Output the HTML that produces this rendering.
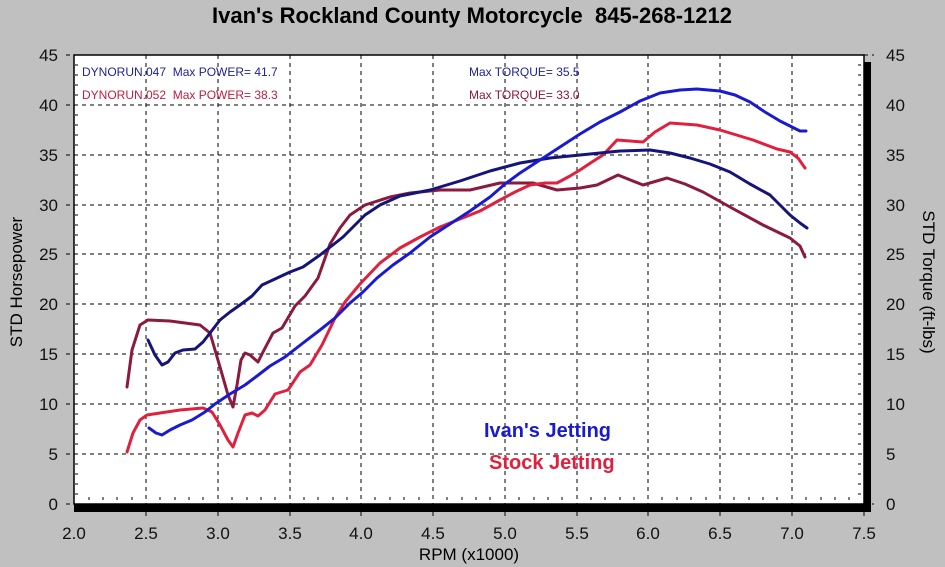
<!DOCTYPE html>
<html><head><style>body{margin:0;background:#c0c0c0}svg{display:block}text{white-space:pre}</style></head><body>
<svg width="945" height="567" xmlns="http://www.w3.org/2000/svg" font-family="Liberation Sans, Arial, sans-serif">
<rect width="945" height="567" fill="#c0c0c0"/>
<text x="472" y="23" text-anchor="middle" font-size="22" font-weight="bold">Ivan's Rockland County Motorcycle  845-268-1212</text>
<rect x="74" y="55" width="790" height="449" fill="#fff" stroke="#000" stroke-width="1.5"/>
<g stroke="#000" stroke-width="1" stroke-dasharray="4,4">
<line x1="146" y1="55" x2="146" y2="504"/><line x1="218" y1="55" x2="218" y2="504"/><line x1="290" y1="55" x2="290" y2="504"/><line x1="361" y1="55" x2="361" y2="504"/><line x1="433" y1="55" x2="433" y2="504"/><line x1="505" y1="55" x2="505" y2="504"/><line x1="577" y1="55" x2="577" y2="504"/><line x1="648" y1="55" x2="648" y2="504"/><line x1="720" y1="55" x2="720" y2="504"/><line x1="792" y1="55" x2="792" y2="504"/>
<line x1="66" y1="105" x2="874" y2="105"/><line x1="66" y1="155" x2="874" y2="155"/><line x1="66" y1="205" x2="874" y2="205"/><line x1="66" y1="254" x2="874" y2="254"/><line x1="66" y1="304" x2="874" y2="304"/><line x1="66" y1="354" x2="874" y2="354"/><line x1="66" y1="404" x2="874" y2="404"/><line x1="66" y1="454" x2="874" y2="454"/>
<line x1="66" y1="55" x2="74" y2="55"/><line x1="864" y1="55" x2="874" y2="55"/><line x1="66" y1="504" x2="74" y2="504"/><line x1="864" y1="504" x2="874" y2="504"/>
<line x1="146" y1="512" x2="146" y2="520"/><line x1="218" y1="512" x2="218" y2="520"/><line x1="290" y1="512" x2="290" y2="520"/><line x1="361" y1="512" x2="361" y2="520"/><line x1="433" y1="512" x2="433" y2="520"/><line x1="505" y1="512" x2="505" y2="520"/><line x1="577" y1="512" x2="577" y2="520"/><line x1="648" y1="512" x2="648" y2="520"/><line x1="720" y1="512" x2="720" y2="520"/><line x1="792" y1="512" x2="792" y2="520"/><line x1="864" y1="512" x2="864" y2="520"/>
</g>
<g stroke="#000" stroke-width="1" stroke-dasharray="3,3">
<path d="M75 65h5M75 75h5M75 85h5M75 95h5M75 115h5M75 125h5M75 135h5M75 145h5M75 165h5M75 175h5M75 185h5M75 195h5M75 215h5M75 225h5M75 235h5M75 245h5M75 264h5M75 274h5M75 284h5M75 294h5M75 314h5M75 324h5M75 334h5M75 344h5M75 364h5M75 374h5M75 384h5M75 394h5M75 414h5M75 424h5M75 434h5M75 444h5M75 464h5M75 474h5M75 484h5M75 494h5"/>
<path d="M858 65h5M858 75h5M858 85h5M858 95h5M858 115h5M858 125h5M858 135h5M858 145h5M858 165h5M858 175h5M858 185h5M858 195h5M858 215h5M858 225h5M858 235h5M858 245h5M858 264h5M858 274h5M858 284h5M858 294h5M858 314h5M858 324h5M858 334h5M858 344h5M858 364h5M858 374h5M858 384h5M858 394h5M858 414h5M858 424h5M858 434h5M858 444h5M858 464h5M858 474h5M858 484h5M858 494h5"/>
<path d="M89 497v6M103 497v6M117 497v6M132 497v6M160 497v6M175 497v6M189 497v6M203 497v6M232 497v6M247 497v6M261 497v6M275 497v6M304 497v6M318 497v6M333 497v6M347 497v6M375 497v6M390 497v6M404 497v6M419 497v6M447 497v6M462 497v6M476 497v6M490 497v6M519 497v6M534 497v6M548 497v6M562 497v6M591 497v6M605 497v6M620 497v6M634 497v6M662 497v6M677 497v6M691 497v6M706 497v6M734 497v6M749 497v6M763 497v6M777 497v6M806 497v6M821 497v6M835 497v6M849 497v6"/>
</g>
<rect x="864" y="62" width="7" height="450" fill="#000"/>
<rect x="74" y="504" width="797" height="8" fill="#000"/>
<g font-size="17" fill="#111" text-anchor="end">
<text x="58" y="61">45</text><text x="58" y="111">40</text><text x="58" y="161">35</text><text x="58" y="211">30</text><text x="58" y="260">25</text><text x="58" y="310">20</text><text x="58" y="360">15</text><text x="58" y="410">10</text><text x="58" y="460">5</text><text x="58" y="510">0</text>
</g>
<g font-size="17" fill="#111" text-anchor="start">
<text x="886" y="61">45</text><text x="886" y="111">40</text><text x="886" y="161">35</text><text x="886" y="211">30</text><text x="886" y="260">25</text><text x="886" y="310">20</text><text x="886" y="360">15</text><text x="886" y="410">10</text><text x="886" y="460">5</text><text x="886" y="510">0</text>
</g>
<g font-size="17" fill="#111" text-anchor="middle">
<text x="74" y="539">2.0</text><text x="146" y="539">2.5</text><text x="218" y="539">3.0</text><text x="290" y="539">3.5</text><text x="361" y="539">4.0</text><text x="433" y="539">4.5</text><text x="505" y="539">5.0</text><text x="577" y="539">5.5</text><text x="648" y="539">6.0</text><text x="720" y="539">6.5</text><text x="792" y="539">7.0</text><text x="864" y="539">7.5</text>
</g>
<text x="469" y="560" text-anchor="middle" font-size="17">RPM (x1000)</text>
<text transform="translate(22,282) rotate(-90)" text-anchor="middle" font-size="17">STD Horsepower</text>
<text transform="translate(923,282) rotate(90)" text-anchor="middle" font-size="17">STD Torque (ft-lbs)</text>
<g font-size="12">
<text x="82" y="76" fill="#22229a">DYNORUN.047  Max POWER= 41.7</text>
<text x="82" y="99" fill="#c0203c">DYNORUN.052  Max POWER= 38.3</text>
<text x="469" y="76" fill="#22229a">Max TORQUE= 35.5</text>
<text x="469" y="99" fill="#8b1a3c">Max TORQUE= 33.0</text>
</g>
<text x="484" y="437" font-size="20" font-weight="bold" fill="#1a1ad0">Ivan's Jetting</text>
<text x="489" y="469" font-size="20" font-weight="bold" fill="#e0203c">Stock Jetting</text>
<g fill="none" stroke-width="3" stroke-linejoin="round" stroke-linecap="round">
<polyline stroke="#8b1a3c" points="127,387 132,350 140,325 148,320 170,321 200,325 210,333 220,367 228,395 233,407 237,385 241,360 245,353 250,355 258,362 263,352 273,333 282,328 295,306 305,296 318,278 330,244 340,228 350,215 365,205 390,197 410,193 440,190 470,190 500,183 533,183 557,190 580,188 597,185 618,175 643,185 667,178 685,184 703,192 730,207 763,225 790,238 800,246 805,257"/>
<polyline stroke="#e0203c" points="127,452 133,433 140,420 147,415 160,413 180,410 203,408 212,412 220,425 228,440 233,447 238,433 245,415 252,413 258,416 265,410 275,394 288,390 300,372 310,365 322,345 335,318 345,302 360,284 380,263 400,248 420,237 440,227 460,219 480,211 500,200 515,192 530,185 545,183 557,183 570,176 580,170 592,162 603,155 617,140 630,141 643,142 655,132 670,123 697,125 720,130 753,140 777,149 790,152 798,158 805,168"/>
<polyline stroke="#14147a" points="148,340 155,355 162,365 168,362 175,353 183,350 195,349 203,342 210,333 220,320 230,312 240,305 252,296 262,285 275,279 290,272 303,267 320,255 343,237 355,225 365,215 380,205 400,196 430,190 460,181 490,171 520,163 550,158 580,155 620,151 650,150 670,153 690,158 710,164 730,172 750,184 770,195 790,215 800,223 807,228"/>
<polyline stroke="#1a1ad0" points="149,428 156,433 162,435 170,430 180,425 192,420 205,412 215,404 230,394 245,385 257,376 270,366 285,357 303,343 320,330 335,318 350,303 363,292 377,278 393,265 410,253 430,237 450,224 470,211 490,197 505,184 520,173 540,160 560,147 580,134 600,122 620,112 640,101 660,93 680,90 697,89 720,91 735,95 750,102 765,112 780,121 790,126 800,131 806,131"/>
</g>
</svg>
</body></html>
